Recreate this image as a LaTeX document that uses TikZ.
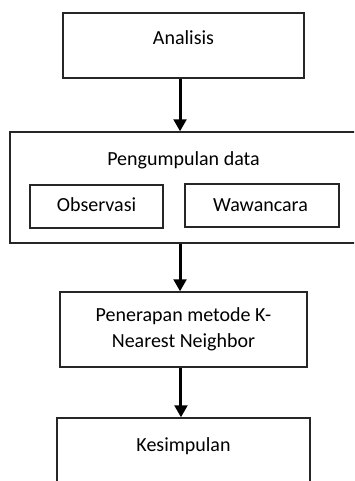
\documentclass[tikz,border=0pt]{standalone}
\usepackage{fontspec}
\setmainfont{Carlito}
\usetikzlibrary{arrows.meta}

\begin{document}
\begin{tikzpicture}[x=0.75pt, y=-0.75pt,
    box/.style={draw=black!85, line width=1pt, rectangle, inner sep=0pt},
    lbl/.style={font=\fontsize{15}{19.5}\selectfont, inner sep=0pt},
    flow/.style={line width=2.25pt, -{Triangle[length=9pt,width=9.5pt]}}]
  \useasboundingbox (0,0) rectangle (354,481);
  \clip (0,0) rectangle (354,481);

  % boxes
  \node [box, minimum width=180.75pt, minimum height=48.75pt] (analisis) at (183.5,45.5) {};
  \node [box, minimum width=270pt, minimum height=83.25pt] (pengumpulan) at (190,187.5) {};
  \node [box, minimum width=99.75pt, minimum height=32.25pt] (observasi) at (96.5,206.5) {};
  \node [box, minimum width=115.5pt, minimum height=32.25pt] (wawancara) at (262,205.5) {};
  \node [box, lbl, align=center, minimum width=185.25pt, minimum height=56.25pt] (penerapan) at (183.5,329.5) {Penerapan metode K-\\Nearest Neighbor};
  \node [box, minimum width=189.75pt, minimum height=78pt] (kesimpulan) at (183.5,470) {};

  % labels
  \node [lbl, anchor=base] (analisisText) at (183.5,45) {Analisis};
  \node [lbl, anchor=base] (pengumpulanText) at (183.5,165.5) {Pengumpulan data};
  \node [lbl, anchor=base] (observasiText) at (96.5,211.5) {Observasi};
  \node [lbl, anchor=base] (wawancaraText) at (260.5,211.5) {Wawancara};
  \node [lbl, anchor=base] (kesimpulanText) at (183.5,451.5) {Kesimpulan};

  % arrows
  \coordinate (inA) at ([xshift=-2.6pt]analisis.south);
  \coordinate (inB) at ([xshift=-2.6pt]penerapan.north);
  \coordinate (inC) at ([xshift=-1.9pt]kesimpulan.north);
  \draw [flow] (inA) -- (inA |- pengumpulan.north);
  \draw [flow] (pengumpulan.south -| inB) -- (inB);
  \draw [flow] (penerapan.south -| inC) -- (inC);
\end{tikzpicture}
\end{document}
